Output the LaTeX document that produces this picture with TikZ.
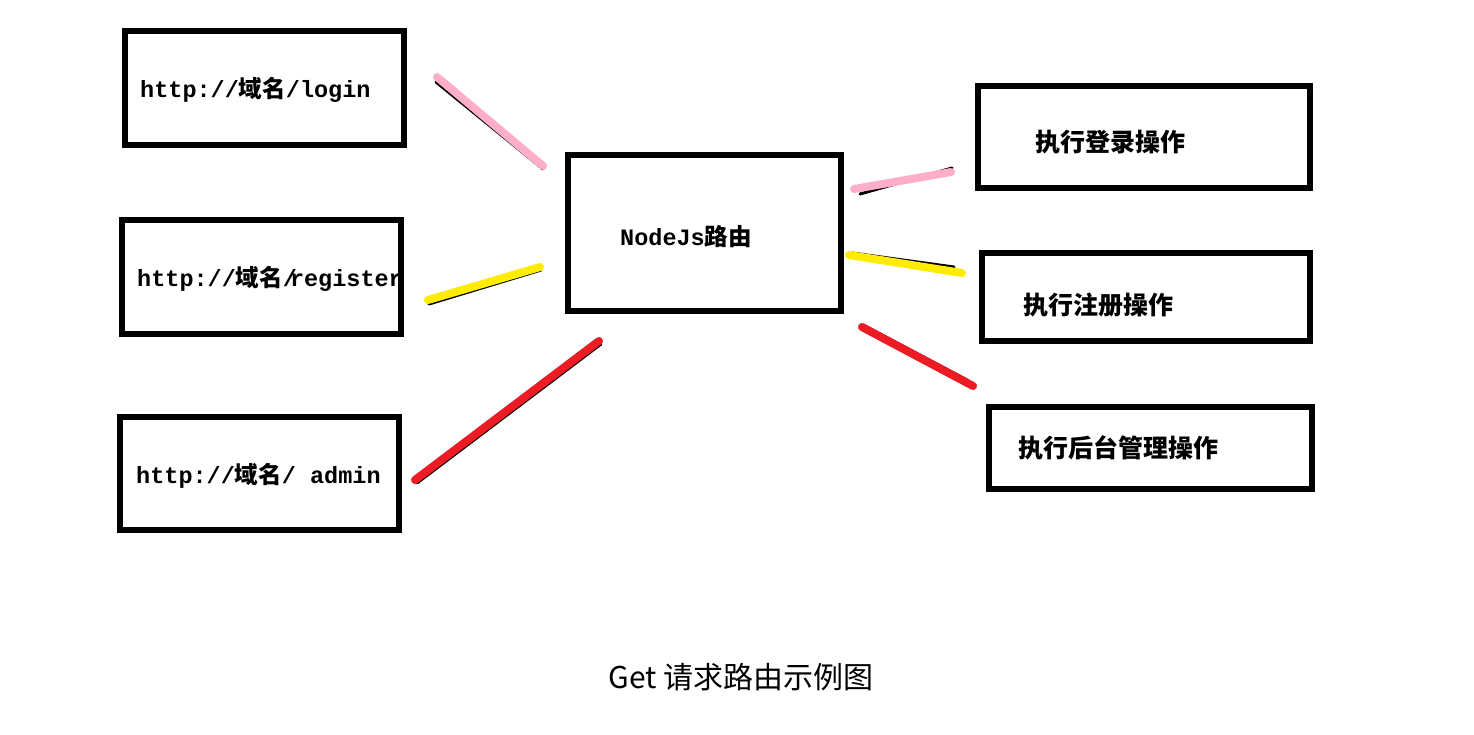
\documentclass[tikz,border=0pt]{standalone}
\usepackage{fontspec}
\setmonofont{Liberation Mono}
\newfontfamily\cjk{Noto Sans CJK SC}
\definecolor{lpink}{RGB}{255,174,201}
\definecolor{lyellow}{RGB}{255,236,0}
\definecolor{lred}{RGB}{237,28,36}
\newcommand{\mt}[1]{{\ttfamily\bfseries #1}}
\newcommand{\ct}[1]{{\cjk\bfseries #1}}
\tikzset{
  box/.style={draw=black, line width=6pt, inner sep=0pt, fill=white},
  lbl/.style={anchor=west, inner sep=0pt, font=\fontsize{23.5}{27}\selectfont},
  oplbl/.style={anchor=west, inner sep=0pt, font=\fontsize{25}{29}\selectfont\cjk\bfseries},
  under/.style={draw=black, line width=3pt, line cap=round},
  over/.style={line width=8pt, line cap=round},
}
\begin{document}
\begin{tikzpicture}[x=1pt,y=-1pt]
\useasboundingbox (0,0) rectangle (1474,734);
% boxes
\node[box, minimum width=279pt, minimum height=114pt] (login) at (264.5,88) {};
\node[box, minimum width=279pt, minimum height=114pt] (reg) at (261.5,277) {};
\node[box, minimum width=279pt, minimum height=113pt] (admin) at (259.5,473.5) {};
\node[box, minimum width=273pt, minimum height=156pt] (router) at (704.5,233) {};
\node[box, minimum width=332pt, minimum height=102pt] (oplogin) at (1144,137) {};
\node[box, minimum width=328pt, minimum height=88pt] (opreg) at (1146,297) {};
\node[box, minimum width=323pt, minimum height=82pt] (opadmin) at (1150.5,448) {};
% labels
\node[lbl] (tlogin) at (140,90) {\mt{http://}\ct{域名}\mt{/login}};
\node[lbl] (treg) at (137,279) {\mt{http://}\ct{域名}\mt{/\kern-7pt register}};
\node[lbl] (tadmin) at (136,476) {\mt{http://}\ct{域名}\mt{/ admin}};
\node[lbl] (trouter) at (620,237) {\mt{NodeJs}\ct{路由}};
\node[oplbl] (toplogin) at (1035,142) {执行登录操作};
\node[oplbl] (topreg) at (1023,305) {执行注册操作};
\node[oplbl] (topadmin) at (1018,448) {执行后台管理操作};
\node[anchor=center, inner sep=0pt, font=\fontsize{30}{34}\selectfont\cjk] (caption) at (741,677) {Get 请求路由示例图};
% connector end points
\coordinate (a1) at (437,77);  \coordinate (a2) at (543,166);
\coordinate (b1) at (428,300); \coordinate (b2) at (540,267);
\coordinate (c1) at (415,480); \coordinate (c2) at (599,341);
\coordinate (d1) at (854,189); \coordinate (d2) at (951,172);
\coordinate (e1) at (849,255); \coordinate (e2) at (962,273);
\coordinate (f1) at (862,327); \coordinate (f2) at (973,386);
% black under-strokes
\draw[under] ([shift={(-1,5)}]a1) -- ([shift={(0,3)}]a2);
\draw[under] ([shift={(1,4)}]b1) -- ([shift={(1,3)}]b2);
\draw[under] ([shift={(2,3)}]c1) -- ([shift={(2,3)}]c2);
\draw[under] ([shift={(6,5)}]d1) -- ([shift={(1,-4)}]d2);
\draw[under] ([shift={(3,-2)}]e1) -- ([shift={(-8,-6)}]e2);
\draw[under] ([shift={(1,-2)}]f1) -- ([shift={(-6,-6)}]f2);
% coloured strokes
\draw[over, lpink] (a1) -- (a2);
\draw[over, lyellow] (b1) -- (b2);
\draw[over, lred] (c1) -- (c2);
\draw[over, lpink] (d1) -- (d2);
\draw[over, lyellow] (e1) -- (e2);
\draw[over, lred] (f1) -- (f2);
\end{tikzpicture}
\end{document}
